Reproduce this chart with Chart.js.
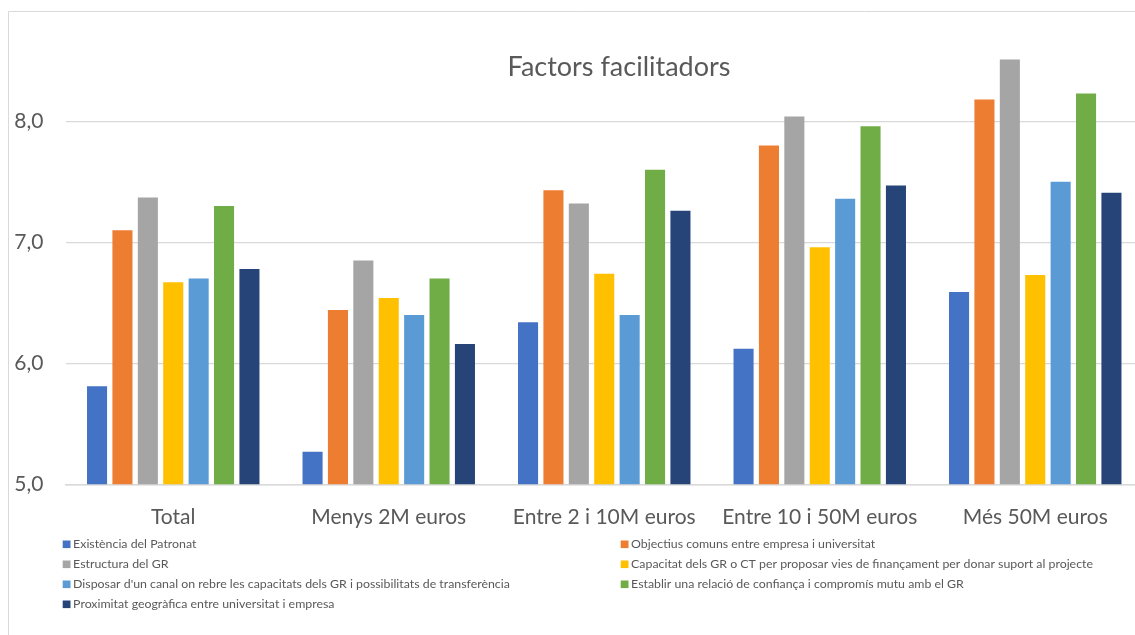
<!DOCTYPE html>
<html><head><meta charset="utf-8">
<script src="https://cdn.jsdelivr.net/npm/chart.js@4/dist/chart.umd.min.js"></script>
<style>html,body{margin:0;padding:0;overflow:hidden;background:#fff}#wrap{position:absolute;left:0;top:0;width:1150px;height:635px}</style>
</head><body><div id="wrap"><canvas id="c" width="1150" height="635"></canvas></div>
<script>
const chartTitle = 'Factors facilitadors';
const categories = ['Total', 'Menys 2M euros', 'Entre 2 i 10M euros', 'Entre 10 i 50M euros', 'Més 50M euros'];
const seriesNames = [
  'Existència del Patronat',
  'Objectius comuns entre empresa i universitat',
  'Estructura del GR',
  'Capacitat dels GR o CT per proposar vies de finançament per donar suport al projecte',
  "Disposar d'un canal on rebre les capacitats dels GR i possibilitats de transferència",
  'Establir una relació de confiança i compromís mutu amb el GR',
  'Proximitat geogràfica entre universitat i empresa'
];
const existencia  = [5.81, 5.27, 6.34, 6.12, 6.59];
const objectius   = [7.10, 6.44, 7.43, 7.80, 8.18];
const estructura  = [7.37, 6.85, 7.32, 8.04, 8.51];
const capacitat   = [6.67, 6.54, 6.74, 6.96, 6.73];
const disposar    = [6.70, 6.40, 6.40, 7.36, 7.50];
const establir    = [7.30, 6.70, 7.60, 7.96, 8.23];
const proximitat  = [6.78, 6.16, 7.26, 7.47, 7.41];
const yTickValues = [5, 6, 7, 8];
const yTickLabels = ['5,0', '6,0', '7,0', '8,0'];

const colors = ['#4472C4', '#ED7D31', '#A5A5A5', '#FFC000', '#5B9BD5', '#70AD47', '#264478'];
const seriesData = [existencia, objectius, estructura, capacitat, disposar, establir, proximitat];
const FONT = 'Lato, "Open Sans", sans-serif';
const TXT = '#595959';

const framePlugin = {
  id: 'frame',
  beforeDraw(chart) {
    const ctx = chart.ctx;
    ctx.save();
    ctx.strokeStyle = '#d9d9d9';
    ctx.lineWidth = 1;
    ctx.beginPath();
    ctx.moveTo(8.5, 640);
    ctx.lineTo(8.5, 11.5);
    ctx.lineTo(chart.width, 11.5);
    ctx.stroke();
    ctx.restore();
  }
};
const titlePlugin = {
  id: 'insideTitle',
  afterDatasetsDraw(chart) {
    const ctx = chart.ctx;
    ctx.save();
    ctx.font = '27px ' + FONT;
    ctx.fillStyle = TXT;
    ctx.textAlign = 'center';
    ctx.textBaseline = 'middle';
    ctx.fillText(chartTitle, 619, 67);
    ctx.restore();
  }
};
const legendPlugin = {
  id: 'twoColLegend',
  afterDraw(chart) {
    const ctx = chart.ctx;
    ctx.save();
    ctx.font = '12.35px ' + FONT;
    ctx.textBaseline = 'middle';
    chart.data.datasets.forEach((ds, i) => {
      const col = i % 2, row = Math.floor(i / 2);
      const x = col ? 620.7 : 62.7;
      const y = 544.5 + row * 20;
      ctx.fillStyle = ds.backgroundColor;
      ctx.fillRect(x, y - 4, 7.8, 7.6);
      ctx.fillStyle = TXT;
      ctx.fillText(ds.label, x + 10.4, y);
    });
    ctx.restore();
  }
};

new Chart(document.getElementById('c'), {
  type: 'bar',
  data: {
    labels: categories,
    datasets: seriesNames.map((name, i) => ({
      label: name,
      data: seriesData[i],
      backgroundColor: colors[i],
      borderWidth: 0,
      categoryPercentage: 0.825,
      barPercentage: 0.79
    }))
  },
  options: {
    responsive: false,
    animation: false,
    layout: { padding: { left: 13, right: 7, top: 36.6, bottom: 105.5 } },
    plugins: { legend: { display: false }, title: { display: false }, tooltip: { enabled: false } },
    scales: {
      x: {
        afterFit(scale) { scale.height = 45.2; },
        grid: { display: false, drawTicks: false },
        border: { display: true, color: '#d9d9d9', width: 1.5 },
        ticks: { color: TXT, font: { family: FONT, size: 21 }, padding: 20, maxRotation: 0, autoSkip: false }
      },
      y: {
        min: 5, max: 8.7,
        afterFit(scale) { scale.width = 52.5; },
        afterBuildTicks(scale) { scale.ticks = yTickValues.map(v => ({ value: v })); },
        grid: { color: '#d9d9d9', lineWidth: 1.2, drawTicks: false },
        border: { display: false },
        ticks: {
          color: TXT, font: { family: FONT, size: 21 }, padding: 22,
          callback: (v) => { const k = yTickValues.indexOf(v); return k >= 0 ? yTickLabels[k] : ''; }
        }
      }
    }
  },
  plugins: [framePlugin, titlePlugin, legendPlugin]
});
</script></body></html>
